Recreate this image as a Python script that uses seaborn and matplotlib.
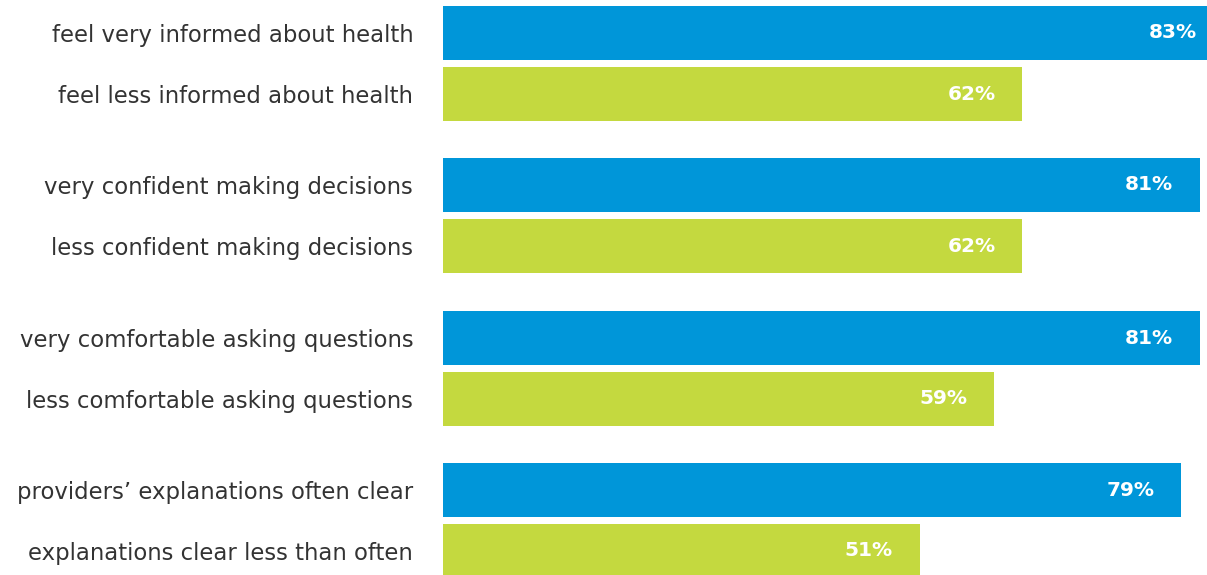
import matplotlib
matplotlib.use("Agg")
import matplotlib.pyplot as plt
import seaborn as sns
import pandas as pd

# Survey results: each pair compares the more and less engaged groups
labels = [
    "feel very informed about health",
    "feel less informed about health",
    "very confident making decisions",
    "less confident making decisions",
    "very comfortable asking questions",
    "less comfortable asking questions",
    "providers\u2019 explanations often clear",
    "explanations clear less than often",
]
values = [83, 62, 81, 62, 81, 59, 79, 51]
groups = [0, 0, 1, 1, 2, 2, 3, 3]
kinds = ["more", "less"] * 4

blue = "#0096d9"
green = "#c4d93f"
palette = {"more": blue, "less": green}

sns.set_theme(style="white")
plt.rcParams["font.family"] = ["DejaVu Sans"]

W, H = 1207, 575
fig = plt.figure(figsize=(W / 100, H / 100), dpi=100)

df = pd.DataFrame({"label": labels, "value": values, "group": groups, "kind": kinds})

bar_w = 54 / 61
x_max = 81.75
group_tops = [6, 158, 311, 463]
panel_h = 115
left_px = 443

for g, top in enumerate(group_tops):
    sub = df[df["group"] == g].reset_index(drop=True)
    ax = fig.add_axes([left_px / W, 1 - (top + panel_h) / H, (W - left_px) / W, panel_h / H])
    sns.barplot(data=sub, x="value", y="label", hue="kind", palette=palette,
                width=bar_w, dodge=False, legend=False, ax=ax, saturation=1,
                linewidth=0)
    ax.set_xlim(0, x_max)
    ax.set_ylim(1 + bar_w / 2, -bar_w / 2)
    for s in ax.spines.values():
        s.set_visible(False)
    ax.set_xticks([])
    ax.set_xlabel("")
    ax.set_ylabel("")
    ax.tick_params(axis="y", length=0, pad=21.5, labelsize=16.4, labelcolor="#333333")
    for i, v in enumerate(sub["value"]):
        ax.annotate(f"{v}%", xy=(min(v, x_max), i), xytext=(-27 if v <= x_max else -10, 0),
                    textcoords="offset pixels",
                    ha="right", va="center", color="white", fontsize=14.5,
                    fontweight="bold")

fig.savefig("out.png", dpi=100)
